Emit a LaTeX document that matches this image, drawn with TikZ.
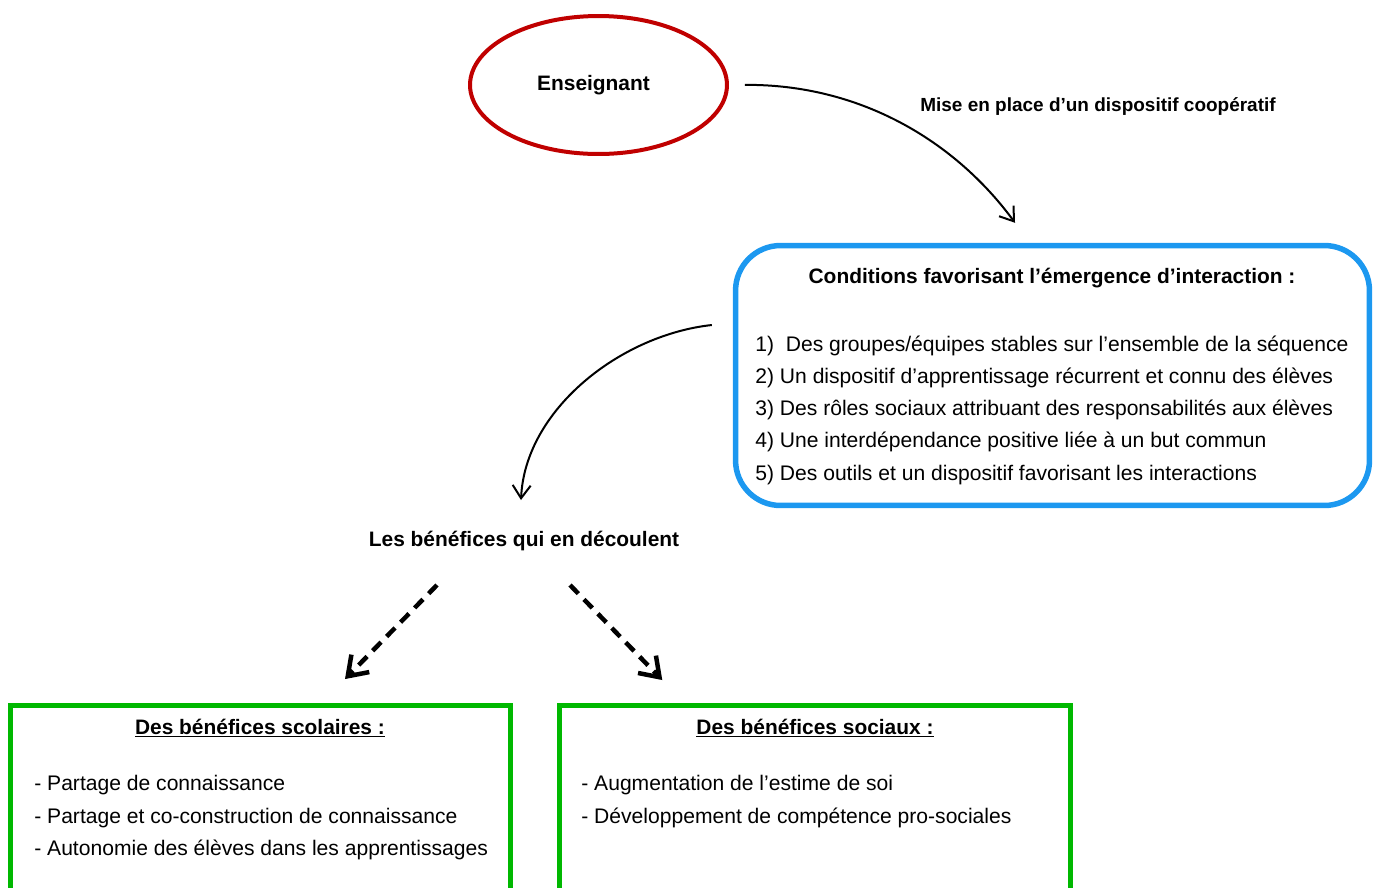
\documentclass[tikz,border=0pt]{standalone}
\usepackage{fontspec}
\setmainfont{Liberation Sans}
\usetikzlibrary{shapes.geometric,arrows.meta,calc}

\definecolor{rouge}{RGB}{192,0,0}
\definecolor{bleu}{RGB}{28,152,240}
\definecolor{vert}{RGB}{0,184,0}

\tikzset{
  texte/.style={inner sep=0pt,anchor=base west,font=\fontsize{12}{14}\selectfont},
  titre/.style={inner sep=0pt,anchor=base,font=\fontsize{11.9}{14}\selectfont\bfseries},
  cadre/.style={draw=vert,line width=0.1cm,minimum height=4.8cm},
  fleche/.style={line width=0.04cm,-{Straight Barb[length=0.26cm,width=0.36cm]}},
  pointille/.style={line width=0.09cm,dash pattern=on 0.24cm off 0.16cm,
    -{Straight Barb[length=0.36cm,width=0.5cm]}}
}

\begin{document}
\begin{tikzpicture}[x=0.02cm,y=-0.02cm]
  \useasboundingbox (0,0) rectangle (1378,887);
  \clip (0,0) rectangle (1378,887);

  % enseignant
  \path (598.5,85) node[ellipse,draw=rouge,line width=0.08cm,inner sep=0pt,
        minimum width=5.14cm,minimum height=2.76cm,
        font=\fontsize{11.9}{14}\selectfont\bfseries] (ens)
        {\hspace*{-0.2cm}Enseignant};

  % conditions
  \path (1052.5,375.5) node[draw=bleu,line width=0.11cm,rounded corners=0.9cm,
        minimum width=12.68cm,minimum height=5.2cm] (cond) {};
  \path (1052,283) node[titre] (condtitre)
        {Conditions favorisant l’émergence d’interaction :};
  \foreach \t [count=\i from 0] in {%
      {1)\ \ Des groupes/équipes stables sur l’ensemble de la séquence},
      {2) Un dispositif d’apprentissage récurrent et connu des élèves},
      {3) Des rôles sociaux attribuant des responsabilités aux élèves},
      {4) Une interdépendance positive liée à un but commun},
      {5) Des outils et un dispositif favorisant les interactions}}
    \path (755,351+32.3*\i) node[texte] (cond\i) {\t};

  \draw[fleche,shorten <=0.32cm] (ens.east) .. controls (860,84) and (955,141) ..
        ($(cond.north)+(-37.5,-20)$);
  \path (1098,111) node[titre,font=\fontsize{10.8}{13}\selectfont\bfseries] (mise)
        {Mise en place d’un dispositif coopératif};

  % benefices
  \path (524,546) node[titre] (benef) {Les bénéfices qui en découlent};
  \draw[fleche] ($(cond.west)+(-21,-50.5)$) .. controls (620,335) and (525,410) ..
        ($(benef.base)+(-3,-46)$);

  % scolaires
  \path (260.5,825.5) node[cadre,minimum width=10cm] (scol) {};
  \path (260,734) node[titre] (scoltitre) {\underline{Des bénéfices scolaires :}};
  \path (34,790) node[texte] (scol1) {- Partage de connaissance};
  \path (34,823) node[texte] (scol2) {- Partage et co-construction de connaissance};
  \path (34,855) node[texte] (scol3) {- Autonomie des élèves dans les apprentissages};

  % sociaux
  \path (815.25,825.5) node[cadre,minimum width=10.23cm] (soc) {};
  \path (815,734) node[titre] (soctitre) {\underline{Des bénéfices sociaux :}};
  \path (581,790) node[texte] (soc1) {- Augmentation de l’estime de soi};
  \path (581,823) node[texte] (soc2) {- Développement de compétence pro-sociales};

  \draw[pointille] ($(benef.base)+(-87,39)$) -- ($(scol.north)+(84.5,-24)$);
  \draw[pointille] ($(benef.base)+(46,39)$) -- ($(soc.north)+(-153,-23)$);
\end{tikzpicture}
\end{document}
